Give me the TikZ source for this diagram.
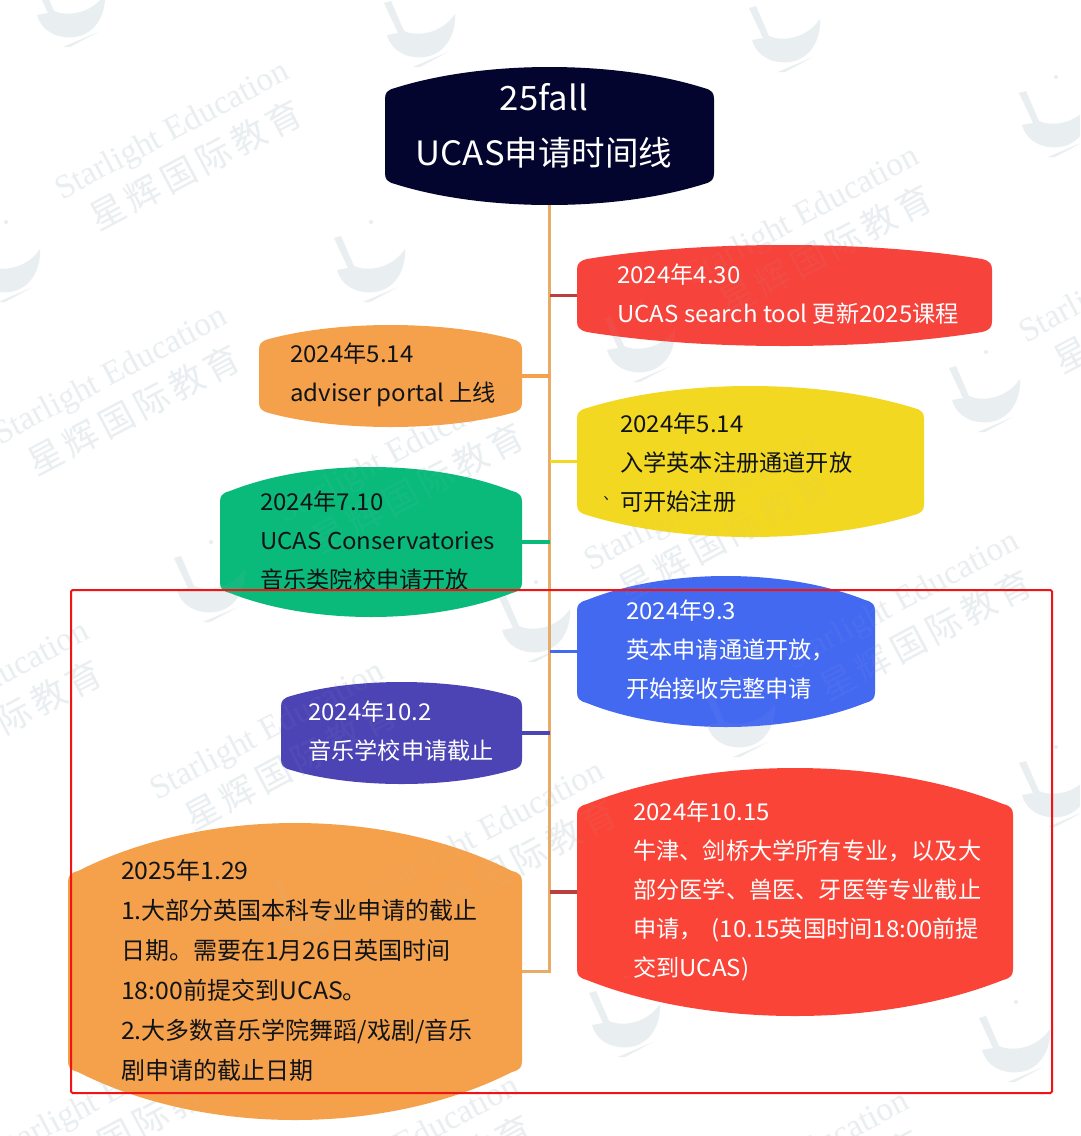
\documentclass[tikz,border=0pt]{standalone}
\usepackage{fontspec}
\setmainfont{Noto Sans CJK SC}
\newfontfamily\wmlatin{Liberation Serif}
\newfontfamily\wmcjk[LetterSpace=14]{Noto Sans CJK SC}
\newfontfamily\latf[FakeStretch=1.035]{Noto Sans CJK SC}
\newcommand{\lat}[1]{{\latf #1}}
\definecolor{cNavy}{HTML}{03052E}
\definecolor{cRed}{HTML}{F6433C}
\definecolor{cRedB}{HTML}{FB4438}
\definecolor{cRedLine}{HTML}{B8403F}
\definecolor{cOrange}{HTML}{F5A14B}
\definecolor{cYellow}{HTML}{F3D821}
\definecolor{cGreen}{HTML}{0ABA7A}
\definecolor{cBlue}{HTML}{4469F1}
\definecolor{cPurple}{HTML}{4C44B5}
\definecolor{cTrunk}{HTML}{E8AC68}
\definecolor{cWm}{HTML}{B4C4D0}
\definecolor{cFrame}{HTML}{F01414}
\definecolor{cDark}{HTML}{101418}
\newcommand{\wmop}{.23}
\tikzset{
  boxtext/.style={inner sep=0pt,anchor=west,align=left,font=\fontsize{23.2}{39}\selectfont},
  boxmark/.style={inner sep=0pt,outer sep=0pt,rectangle},
  connline/.style={line width=3.5pt},
  trunkline/.style={line width=3.5pt,draw=cTrunk,line join=miter},
  wmen/.style={inner sep=0pt,rotate=28,text=cWm,opacity=\wmop,font=\wmlatin\fontsize{33.5}{35}\selectfont},
  wmcn/.style={inner sep=0pt,rotate=28,text=cWm,opacity=\wmop,font=\wmcjk\fontsize{35}{36}\selectfont},
  wmboat/.style={fill=cWm,opacity=\wmop}
}
\newcommand{\blobshape}[7]{%
  \fill[#7] ({#2+10},{#4+#6})
    .. controls ({#2+0.3*(#3-#2)},{#4+#6-#6*4/3}) and ({#3-0.3*(#3-#2)},{#4+#6-#6*4/3}) .. ({#3-10},{#4+#6})
    .. controls ({#3-2},{#4+#6+2}) and ({#3},{#4+#6+5}) .. ({#3},{#4+#6+11})
    -- ({#3},{#5-#6-11})
    .. controls ({#3},{#5-#6-5}) and ({#3-2},{#5-#6-2}) .. ({#3-10},{#5-#6})
    .. controls ({#3-0.3*(#3-#2)},{#5-#6+#6*4/3}) and ({#2+0.3*(#3-#2)},{#5-#6+#6*4/3}) .. ({#2+10},{#5-#6})
    .. controls ({#2+2},{#5-#6-2}) and ({#2},{#5-#6-5}) .. ({#2},{#5-#6-11})
    -- ({#2},{#4+#6+11})
    .. controls ({#2},{#4+#6+5}) and ({#2+2},{#4+#6+2}) .. cycle;
  \node[boxmark,minimum width={(#3-#2)*1pt},minimum height={(#5-#4)*1pt}] (#1) at ({(#2+#3)/2},{(#4+#5)/2}) {};
}
\newcommand{\wboat}[2]{%
  \begin{scope}[shift={(#1,#2)}]
    \fill[wmboat] (-36,-27) -- (-29,-29) -- (-16,1) .. controls (-6,6) and (20,6) .. (35,-16)
      .. controls (36,5) and (25,24) .. (5,27) .. controls (-12,29) and (-28,22) .. (-33,5)
      -- (-22,3) -- cycle;
    \fill[wmboat] (-7,37) -- (28,22) -- (0,37) -- cycle;
    \fill[wmboat] (1,-43) circle (2);
  \end{scope}}
\newcommand{\wtext}[2]{%
  \node[wmen] at (#1,#2) {Starlight Education};
  \node[wmcn] at ({#1+23},{#2+33}) {星辉国际教育};}
\newcommand{\allwm}{%
\wtext{173}{132}
\wtext{111}{377}
\wtext{-27}{692}
\wtext{268}{732}
\wtext{488}{832}
\wtext{903}{602}
\wtext{803}{217}
\wtext{395}{455}
\wtext{702}{503}
\wtext{403}{1147}
\wtext{793}{1162}
\wtext{110}{1095}
\wtext{1137}{275}
\wboat{70}{10}
\wboat{420}{30}
\wboat{785}{35}
\wboat{1055}{120}
\wboat{5}{265}
\wboat{370}{265}
\wboat{985}{395}
\wboat{640}{345}
\wboat{210}{585}
\wboat{535}{625}
\wboat{740}{720}
\wboat{1055}{790}
\wboat{310}{910}
\wboat{625}{1020}
\wboat{1015}{1045}}
\begin{document}
\begin{tikzpicture}[x=1pt,y=-1pt]
\useasboundingbox (0,0) rectangle (1080,1136);
\clip (0,0) rectangle (1080,1136);
\fill[white] (0,0) rectangle (1080,1136);
\allwm

% blobs
\blobshape{title}{385}{714}{67}{205}{21}{cNavy}
\blobshape{rA}{577}{992}{245}{346}{14}{cRed}
\blobshape{oA}{259}{522}{325}{427}{14}{cOrange}
\blobshape{yA}{577}{924}{386}{537}{22}{cYellow}
\blobshape{gA}{220}{522}{467}{617}{24}{cGreen}
\blobshape{bA}{577}{875}{576}{727}{24}{cBlue}
\blobshape{pA}{281}{522}{682}{784}{14}{cPurple}
\blobshape{rB}{577}{1013}{768}{1016}{36}{cRedB}
\blobshape{oB}{68}{522}{823}{1120}{48}{cOrange}

% connectors
\draw[trunkline] (title.south) |- (oB.east);
\draw[connline,draw=cRedLine] (rA.west) -- (rA.west -| title.south);
\draw[connline,draw=cOrange] (oA.east) -- (oA.east -| title.south);
\draw[connline,draw=cYellow] (yA.west) -- (yA.west -| title.south);
\draw[connline,draw=cGreen] (gA.east) -- (gA.east -| title.south);
\draw[connline,draw=cBlue] (bA.west) -- (bA.west -| title.south);
\draw[connline,draw=cPurple] (pA.east) -- (pA.east -| title.south);
\draw[connline,draw=cRedLine] (rB.west) -- (rB.west -| title.south);

% faint watermark showing through the filled shapes
\renewcommand{\wmop}{.06}
\allwm

% texts
\node[inner sep=0pt,align=center,text=white,font=\fontsize{33.5}{55}\selectfont] (titleText) at (544,126) {\lat{25fall}\\\lat{UCAS}申请时间线};
\node[boxtext,text=white] (rAt) at (617,294) {\lat{2024}年\lat{4.30}\\\lat{UCAS search tool} 更新\lat{2025}课程};
\node[boxtext,text=cDark] (oAt) at (290,375) {\lat{2024}年\lat{5.14}\\\lat{adviser portal} 上线};
\node[boxtext,text=cDark] (yAt) at (620,462.5) {\lat{2024}年\lat{5.14}\\入学英本注册通道开放\\可开始注册};
\fill[cDark] (604,496) -- (605,496) -- (608,499) -- (607,500) -- cycle;
\node[boxtext,text=cDark] (gAt) at (260,540.5) {\lat{2024}年\lat{7.10}\\\lat{UCAS Conservatories}\\音乐类院校申请开放};
\node[boxtext,text=white] (bAt) at (626,649.5) {\lat{2024}年\lat{9.3}\\英本申请通道开放，\\开始接收完整申请};
\node[boxtext,text=white] (pAt) at (308,731) {\lat{2024}年\lat{10.2}\\音乐学校申请截止};
\node[boxtext,text=white] (rBt) at (633,891) {\lat{2024}年\lat{10.15}\\牛津、剑桥大学所有专业，以及大\\部分医学、兽医、牙医等专业截止\\申请，\hspace{9pt}\lat{(10.15}英国时间\lat{18:00}前提\\交到\lat{UCAS)}};
\node[boxtext,text=cDark,font=\fontsize{24}{40}\selectfont] (oBt) at (121,970) {\lat{2025}年\lat{1.29}\\\lat{1.}大部分英国本科专业申请的截止\\日期。需要在\lat{1}月\lat{26}日英国时间\\\lat{18:00}前提交到\lat{UCAS}。\\\lat{2.}大多数音乐学院舞蹈/戏剧/音乐\\剧申请的截止日期};

% annotation frame
\node[draw=cFrame,line width=2pt,rounded corners=1.5pt,inner sep=0pt,minimum width=981pt,minimum height=503pt] (frame) at (561.5,841.5) {};
\end{tikzpicture}
\end{document}
